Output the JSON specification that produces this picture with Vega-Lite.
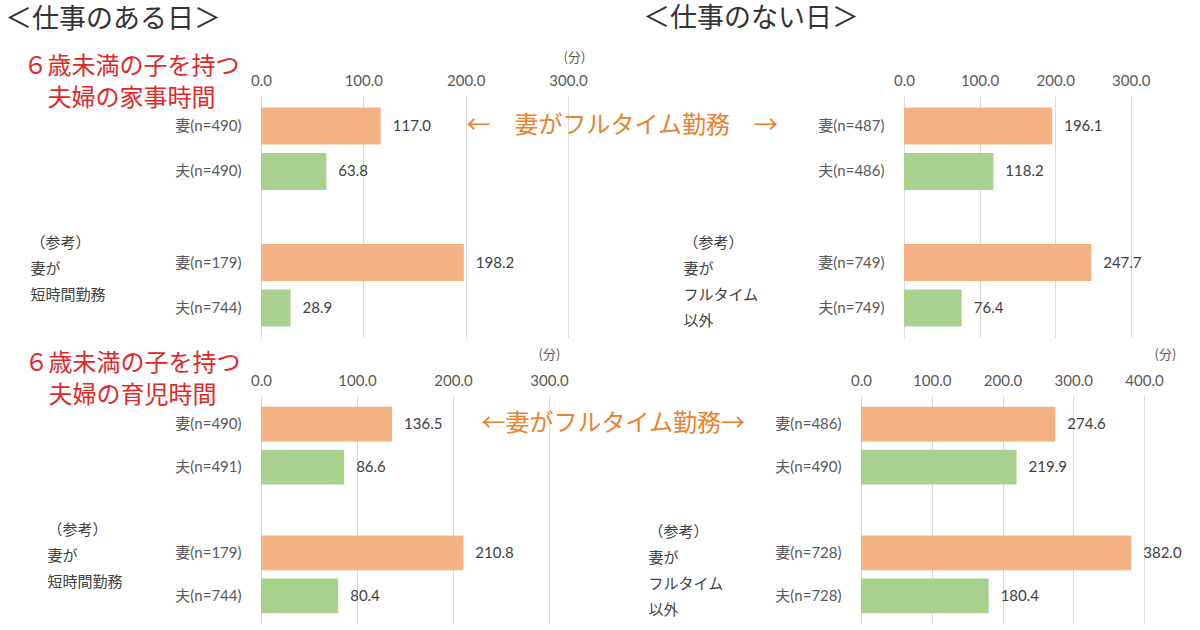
{
  "$schema": "https://vega.github.io/schema/vega-lite/v6.json",
  "background": "white",
  "padding": 5,
  "config": {
    "font": "Noto Sans CJK JP",
    "view": {"stroke": null},
    "axis": {"labelFont": "Lato, 'Noto Sans CJK JP'", "labelFontSize": 15, "labelColor": "#595959", "labelFlush": false, "ticks": false, "tickSize": 0, "domain": false, "titleFont": "Noto Sans CJK JP", "titleFontWeight": "normal"},
    "axisX": {"grid": true, "gridColor": "#D9D9D9", "gridWidth": 1, "labelPadding": 8, "titleFontSize": 13, "titleColor": "#595959", "titleAlign": "center", "titleBaseline": "middle"},
    "axisY": {"grid": false, "labelPadding": 20, "titleAngle": 0, "titleAlign": "left", "titleBaseline": "middle", "titleFontSize": 15, "titleColor": "#404040", "titleLineHeight": 26},
    "scale": {"bandPaddingInner": 0.187, "bandPaddingOuter": 0.25},
    "title": {"anchor": "start", "frame": "bounds", "fontSize": 27, "fontWeight": "normal", "color": "#333333", "font": "Noto Sans CJK JP"}
  },
  "datasets": {
    "times": [
      {"activity": "家事", "day": "仕事のある日", "label": "妻(n=490)", "person": "妻", "minutes": 117.0},
      {"activity": "家事", "day": "仕事のある日", "label": "夫(n=490)", "person": "夫", "minutes": 63.8},
      {"activity": "家事", "day": "仕事のある日", "label": "妻(n=179)", "person": "妻", "minutes": 198.2},
      {"activity": "家事", "day": "仕事のある日", "label": "夫(n=744)", "person": "夫", "minutes": 28.9},
      {"activity": "家事", "day": "仕事のない日", "label": "妻(n=487)", "person": "妻", "minutes": 196.1},
      {"activity": "家事", "day": "仕事のない日", "label": "夫(n=486)", "person": "夫", "minutes": 118.2},
      {"activity": "家事", "day": "仕事のない日", "label": "妻(n=749)", "person": "妻", "minutes": 247.7},
      {"activity": "家事", "day": "仕事のない日", "label": "夫(n=749)", "person": "夫", "minutes": 76.4},
      {"activity": "育児", "day": "仕事のある日", "label": "妻(n=490)", "person": "妻", "minutes": 136.5},
      {"activity": "育児", "day": "仕事のある日", "label": "夫(n=491)", "person": "夫", "minutes": 86.6},
      {"activity": "育児", "day": "仕事のある日", "label": "妻(n=179)", "person": "妻", "minutes": 210.8},
      {"activity": "育児", "day": "仕事のある日", "label": "夫(n=744)", "person": "夫", "minutes": 80.4},
      {"activity": "育児", "day": "仕事のない日", "label": "妻(n=486)", "person": "妻", "minutes": 274.6},
      {"activity": "育児", "day": "仕事のない日", "label": "夫(n=490)", "person": "夫", "minutes": 219.9},
      {"activity": "育児", "day": "仕事のない日", "label": "妻(n=728)", "person": "妻", "minutes": 382.0},
      {"activity": "育児", "day": "仕事のない日", "label": "夫(n=728)", "person": "夫", "minutes": 180.4}
    ]
  },
  "spacing": 10,
  "vconcat": [
    {
      "bounds": "flush",
      "spacing": 336,
      "hconcat": [
        {
          "data": {"name": "times"},
          "width": 307,
          "height": 242,
          "title": {"text": "＜仕事のある日＞", "dx": -18, "offset": 17},
          "layer": [
            {
              "transform": [{"filter": "datum.activity === '家事' && datum.day === '仕事のある日'"}],
              "mark": {"type": "bar"},
              "encoding": {
                "x": {"field": "minutes", "type": "quantitative", "scale": {"domain": [0, 300], "nice": false}, "axis": {"orient": "top", "values": [0, 100, 200, 300], "format": ".1f", "title": "(分)", "titleX": 313, "titleY": -39}},
                "y": {"field": "label", "type": "nominal", "scale": {"domain": ["妻(n=490)", "夫(n=490)", " ", "妻(n=179)", "夫(n=744)"]}, "axis": {"title": ["（参考）", "妻が", "短時間勤務"], "titleX": -231, "titleY": 146}},
                "color": {"field": "person", "type": "nominal", "scale": {"domain": ["妻", "夫"], "range": ["#F4B183", "#A9D18E"]}, "legend": null}
              }
            },
            {
              "transform": [{"filter": "datum.activity === '家事' && datum.day === '仕事のある日'"}],
              "mark": {"type": "text", "align": "left", "baseline": "middle", "dx": 12, "fontSize": 15, "color": "#404040", "font": "Lato"},
              "encoding": {
                "x": {"field": "minutes", "type": "quantitative"},
                "y": {"field": "label", "type": "nominal", "scale": {"domain": ["妻(n=490)", "夫(n=490)", " ", "妻(n=179)", "夫(n=744)"]}, "axis": {"orient": "left", "labels": false, "title": ["６歳未満の子を持つ", "夫婦の家事時間"], "titleX": -130, "titleY": -30, "titleAlign": "center", "titleFontSize": 24, "titleColor": "#E02828", "titleLineHeight": 32}},
                "text": {"field": "minutes", "type": "quantitative", "format": ".1f"}
              }
            },
            {
              "data": {"values": [{"note": "←　妻がフルタイム勤務　→"}]},
              "mark": {"type": "text", "fontSize": 24, "color": "#E9822F", "align": "center", "baseline": "middle"},
              "encoding": {
                "x": {"datum": 353, "type": "quantitative"},
                "y": {"datum": "妻(n=490)", "type": "nominal", "axis": null},
                "text": {"field": "note", "type": "nominal"}
              }
            }
          ],
          "resolve": {"axis": {"y": "independent"}}
        },
        {
          "data": {"name": "times"},
          "width": 291,
          "height": 242,
          "title": {"text": "＜仕事のない日＞", "dx": -40, "offset": 40},
          "transform": [{"filter": "datum.activity === '家事' && datum.day === '仕事のない日'"}],
          "encoding": {
            "x": {"field": "minutes", "type": "quantitative", "scale": {"domain": [0, 385], "nice": false}, "axis": {"orient": "top", "values": [0, 100, 200, 300], "format": ".1f", "title": null}},
            "y": {"field": "label", "type": "nominal", "scale": {"domain": ["妻(n=487)", "夫(n=486)", " ", "妻(n=749)", "夫(n=749)"]}, "axis": {"title": ["（参考）", "妻が", "フルタイム", "以外"], "titleX": -221, "titleY": 146}}
          },
          "layer": [
            {
              "mark": {"type": "bar"},
              "encoding": {"color": {"field": "person", "type": "nominal", "scale": {"domain": ["妻", "夫"], "range": ["#F4B183", "#A9D18E"]}, "legend": null}}
            },
            {
              "mark": {"type": "text", "align": "left", "baseline": "middle", "dx": 12, "fontSize": 15, "color": "#404040", "font": "Lato"},
              "encoding": {"text": {"field": "minutes", "type": "quantitative", "format": ".1f"}}
            }
          ]
        }
      ]
    },
    {
      "bounds": "flush",
      "spacing": 312,
      "hconcat": [
        {
          "data": {"name": "times"},
          "width": 288,
          "height": 228,
          "layer": [
            {
              "transform": [{"filter": "datum.activity === '育児' && datum.day === '仕事のある日'"}],
              "mark": {"type": "bar"},
              "encoding": {
                "x": {"field": "minutes", "type": "quantitative", "scale": {"domain": [0, 300], "nice": false}, "axis": {"orient": "top", "values": [0, 100, 200, 300], "format": ".1f", "title": "(分)", "titleX": 288, "titleY": -42}},
                "y": {"field": "label", "type": "nominal", "scale": {"domain": ["妻(n=490)", "夫(n=491)", " ", "妻(n=179)", "夫(n=744)"]}, "axis": {"title": ["（参考）", "妻が", "短時間勤務"], "titleX": -214, "titleY": 133}},
                "color": {"field": "person", "type": "nominal", "scale": {"domain": ["妻", "夫"], "range": ["#F4B183", "#A9D18E"]}, "legend": null}
              }
            },
            {
              "transform": [{"filter": "datum.activity === '育児' && datum.day === '仕事のある日'"}],
              "mark": {"type": "text", "align": "left", "baseline": "middle", "dx": 12, "fontSize": 15, "color": "#404040", "font": "Lato"},
              "encoding": {
                "x": {"field": "minutes", "type": "quantitative"},
                "y": {"field": "label", "type": "nominal", "scale": {"domain": ["妻(n=490)", "夫(n=491)", " ", "妻(n=179)", "夫(n=744)"]}, "axis": {"orient": "left", "labels": false, "title": ["６歳未満の子を持つ", "夫婦の育児時間"], "titleX": -129, "titleY": -33, "titleAlign": "center", "titleFontSize": 24, "titleColor": "#E02828", "titleLineHeight": 32}},
                "text": {"field": "minutes", "type": "quantitative", "format": ".1f"}
              }
            },
            {
              "data": {"values": [{"note": "←妻がフルタイム勤務→"}]},
              "mark": {"type": "text", "fontSize": 24, "color": "#E9822F", "align": "center", "baseline": "middle"},
              "encoding": {
                "x": {"datum": 367, "type": "quantitative"},
                "y": {"datum": "妻(n=490)", "type": "nominal", "axis": null},
                "text": {"field": "note", "type": "nominal"}
              }
            }
          ],
          "resolve": {"axis": {"y": "independent"}}
        },
        {
          "data": {"name": "times"},
          "width": 283,
          "height": 228,
          "transform": [{"filter": "datum.activity === '育児' && datum.day === '仕事のない日'"}],
          "encoding": {
            "x": {"field": "minutes", "type": "quantitative", "scale": {"domain": [0, 400], "nice": false}, "axis": {"orient": "top", "values": [0, 100, 200, 300, 400], "format": ".1f", "title": "(分)", "titleX": 304, "titleY": -42}},
            "y": {"field": "label", "type": "nominal", "scale": {"domain": ["妻(n=486)", "夫(n=490)", " ", "妻(n=728)", "夫(n=728)"]}, "axis": {"title": ["（参考）", "妻が", "フルタイム", "以外"], "titleX": -213, "titleY": 135}}
          },
          "layer": [
            {
              "mark": {"type": "bar"},
              "encoding": {"color": {"field": "person", "type": "nominal", "scale": {"domain": ["妻", "夫"], "range": ["#F4B183", "#A9D18E"]}, "legend": null}}
            },
            {
              "mark": {"type": "text", "align": "left", "baseline": "middle", "dx": 12, "fontSize": 15, "color": "#404040", "font": "Lato"},
              "encoding": {"text": {"field": "minutes", "type": "quantitative", "format": ".1f"}}
            }
          ]
        }
      ]
    }
  ]
}
